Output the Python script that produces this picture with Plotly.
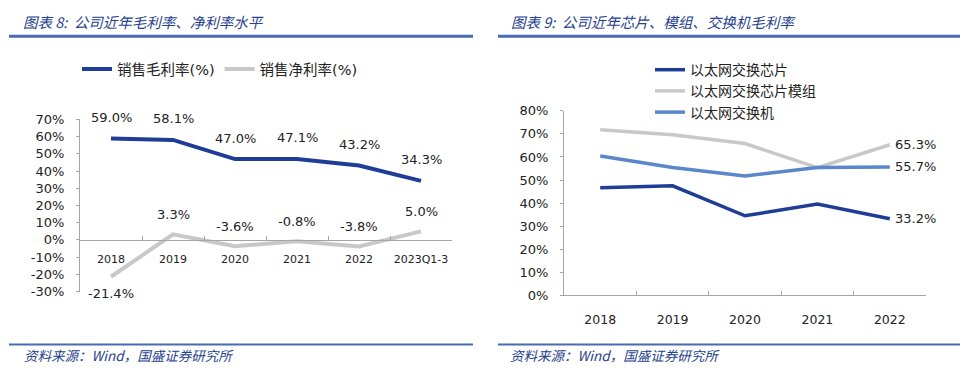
import plotly.graph_objects as go

W, H = 972, 388

# ---- data: left chart ----
years_left = ["2018", "2019", "2020", "2021", "2022", "2023Q1-3"]
gross_margin = [59.0, 58.1, 47.0, 47.1, 43.2, 34.3]
net_margin = [-21.4, 3.3, -3.6, -0.8, -3.8, 5.0]
left_yticks = [-30, -20, -10, 0, 10, 20, 30, 40, 50, 60, 70]

# ---- data: right chart ----
years_right = ["2018", "2019", "2020", "2021", "2022"]
chip = [46.7, 47.5, 34.5, 39.6, 33.2]
module = [71.8, 69.6, 65.8, 55.4, 65.3]
switch = [60.4, 55.4, 51.8, 55.4, 55.7]
right_yticks = [0, 10, 20, 30, 40, 50, 60, 70, 80]

# styling
DARK = "#1F3D96"
GRAY = "#C8C8C8"
LIGHT = "#5A86CA"
AXIS = "#A6A6A6"
TITLE_C = "#26418F"
RULE_C = "#4A6BB4"
TXT = "#222222"
FONT = "DejaVu Sans"
CJK = "Noto Sans CJK SC"
MIXED = "DejaVu Sans, Noto Sans CJK SC"
net_label_side = ["below", "above", "above", "above", "above", "above"]


def px(x):
    return x / W


def py(y):
    return 1 - y / H


fig = go.Figure()

# left traces
fig.add_trace(go.Scatter(x=years_left, y=gross_margin, name="销售毛利率(%)", mode="lines",
                         line=dict(color=DARK, width=4), xaxis="x", yaxis="y", legend="legend"))
fig.add_trace(go.Scatter(x=years_left, y=net_margin, name="销售净利率(%)", mode="lines",
                         line=dict(color=GRAY, width=4), xaxis="x", yaxis="y", legend="legend"))

# right traces
fig.add_trace(go.Scatter(x=years_right, y=chip, name="以太网交换芯片", mode="lines",
                         line=dict(color=DARK, width=3.5), xaxis="x2", yaxis="y2", legend="legend2"))
fig.add_trace(go.Scatter(x=years_right, y=module, name="以太网交换芯片模组", mode="lines",
                         line=dict(color=GRAY, width=3.5), xaxis="x2", yaxis="y2", legend="legend2"))
fig.add_trace(go.Scatter(x=years_right, y=switch, name="以太网交换机", mode="lines",
                         line=dict(color=LIGHT, width=3.5), xaxis="x2", yaxis="y2", legend="legend2"))

annotations = []
for i, yv in enumerate(gross_margin):
    annotations.append(dict(x=i, y=yv, xref="x", yref="y", text=f"{yv:.1f}%", showarrow=False,
                            yshift=21, font=dict(family=FONT, size=13, color=TXT)))
for i, (yv, side) in enumerate(zip(net_margin, net_label_side)):
    annotations.append(dict(x=i, y=yv, xref="x", yref="y", text=f"{yv:.1f}%", showarrow=False,
                            yshift=20 if side == "above" else -17,
                            font=dict(family=FONT, size=13, color=TXT)))
last = len(years_right) - 1
for series in (module, switch, chip):
    annotations.append(dict(x=last, y=series[-1], xref="x2", yref="y2",
                            text=f"{series[-1]:.1f}%", showarrow=False, xanchor="left", xshift=3,
                            font=dict(family=FONT, size=13, color=TXT)))

# titles & sources
for x0, t in ((21, "图表 8:  公司近年毛利率、净利率水平"), (509, "图表 9:  公司近年芯片、模组、交换机毛利率")):
    annotations.append(dict(x=px(x0), y=py(15), xref="paper", yref="paper", xanchor="left",
                            yanchor="middle", showarrow=False, text=t,
                            font=dict(family=CJK, size=14.5, color=TITLE_C, style="italic")))
for x0 in (22, 508):
    annotations.append(dict(x=px(x0), y=py(362), xref="paper", yref="paper", xanchor="left",
                            yanchor="middle", showarrow=False, text="资料来源：Wind，国盛证券研究所",
                            font=dict(family=CJK, size=13.5, color=TITLE_C, style="italic")))

shapes = []
for x0, x1 in ((9, 473), (498, 960)):
    shapes.append(dict(type="line", xref="paper", yref="paper", x0=px(x0), x1=px(x1),
                       y0=py(30.5), y1=py(30.5), line=dict(color=RULE_C, width=3)))
    shapes.append(dict(type="line", xref="paper", yref="paper", x0=px(x0), x1=px(x1),
                       y0=py(351), y1=py(351), line=dict(color=RULE_C, width=2)))

# left plot geometry
ly0, ly1 = py(296), py(117)
lmin, lmax = -30, 70
zero_pos = ly0 + (0 - lmin) / (lmax - lmin) * (ly1 - ly0)

fig.update_layout(
    width=W, height=H, margin=dict(l=0, r=0, t=0, b=0),
    paper_bgcolor="white", plot_bgcolor="white",
    annotations=annotations, shapes=shapes,
    xaxis=dict(domain=[px(80), px(452)], type="category", range=[-0.5, 5.5],
               anchor="free", position=zero_pos, showline=True, linecolor=AXIS, linewidth=1,
               ticks="inside", ticklen=4, tickcolor=AXIS, tickson="boundaries", tickangle=0,
               showgrid=False, zeroline=False, ticklabelstandoff=9,
               tickfont=dict(family=FONT, size=11, color=TXT)),
    yaxis=dict(domain=[ly0, ly1], range=[lmin, lmax], tickmode="array", tickvals=left_yticks,
               ticktext=[f"{v}%" for v in left_yticks],
               anchor="x", showline=True, linecolor=AXIS, linewidth=1, ticks="outside",
               ticklen=3, tickcolor=AXIS, showgrid=False, zeroline=False, ticklabelstandoff=9,
               tickfont=dict(family=FONT, size=13, color=TXT)),
    xaxis2=dict(domain=[px(564), px(926)], type="category", range=[-0.5, 4.5], anchor="y2",
                showline=True, linecolor=AXIS, linewidth=1, ticks="inside", ticklen=4,
                tickcolor=AXIS, tickson="boundaries", tickangle=0, showgrid=False, zeroline=False,
                ticklabelstandoff=13, tickfont=dict(family=FONT, size=12.5, color=TXT)),
    yaxis2=dict(domain=[py(300), py(108)], range=[0, 80], tickmode="array", tickvals=right_yticks,
                ticktext=[f"{v}%" for v in right_yticks],
                anchor="x2", showline=True, linecolor=AXIS, linewidth=1, ticks="outside",
                ticklen=3, tickcolor=AXIS, showgrid=False, zeroline=False, ticklabelstandoff=9,
                tickfont=dict(family=FONT, size=13, color=TXT)),
    legend=dict(orientation="h", x=px(77), y=py(48), xanchor="left", yanchor="top",
                bgcolor="rgba(0,0,0,0)", font=dict(family=MIXED, size=14.5, color=TXT),
                itemwidth=30, traceorder="normal"),
    legend2=dict(orientation="v", x=px(650), y=py(49), xanchor="left", yanchor="top",
                 bgcolor="rgba(0,0,0,0)", font=dict(family=CJK, size=14, color=TXT),
                 itemwidth=30, traceorder="normal", tracegroupgap=0),
    showlegend=True,
)

fig.write_html(
    "out.html",
    config={"displayModeBar": False},
    post_script="document.body.style.margin='0';document.body.style.overflow='hidden';",
)
